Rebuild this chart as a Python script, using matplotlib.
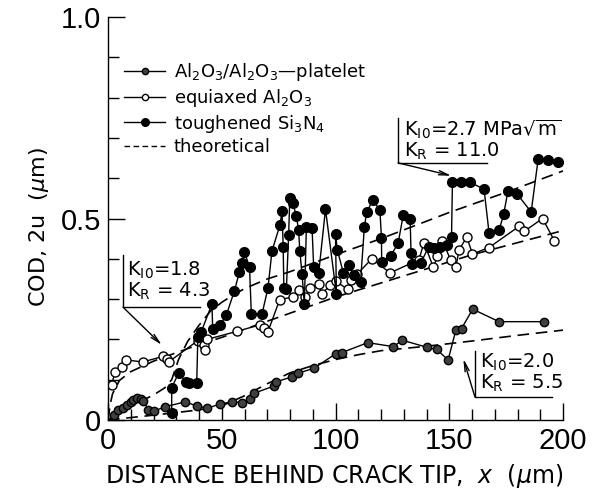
import matplotlib
matplotlib.use("Agg")
import matplotlib.pyplot as plt
from matplotlib.lines import Line2D

platelet_x = [2.5, 4.5, 6.7, 8.2, 10, 11.1, 12.6, 14.3, 15.5, 17.8, 20.3, 25.1, 33.9, 39,
              43.7, 49.3, 54.5, 58.9, 62.2, 64, 72.8, 74, 80.9, 83.4, 90.4, 100, 102.7,
              114.2, 125.4, 129.4, 140.4, 144.5, 149.5, 152.9, 155.4, 160.3, 171.9, 191.7]
platelet_y = [0.012, 0.025, 0.03, 0.037, 0.045, 0.05, 0.055, 0.052, 0.048, 0.025, 0.022,
              0.033, 0.045, 0.035, 0.029, 0.04, 0.045, 0.043, 0.051, 0.066, 0.084, 0.095,
              0.107, 0.116, 0.128, 0.164, 0.167, 0.192, 0.182, 0.198, 0.18, 0.175, 0.149,
              0.223, 0.227, 0.275, 0.244, 0.244]

equiaxed_x = [1.6, 3.1, 6, 7.9, 15.3, 24.3, 25.8, 26.9, 39.5, 42, 42.7, 43.5, 56.7, 66.7,
              68.4, 70.3, 75.5, 81.3, 83.8, 86.8, 89, 92.6, 94, 97.8, 100, 105.4, 107,
              109.5, 116, 124, 136.7, 138.9, 143, 144.8, 147, 150.7, 152.9, 154.3, 157.7,
              160.2, 167.5, 180.8, 182.9, 191, 196.2]
equiaxed_y = [0.087, 0.12, 0.132, 0.149, 0.144, 0.158, 0.151, 0.145, 0.197, 0.186, 0.174,
              0.2, 0.22, 0.236, 0.228, 0.219, 0.299, 0.305, 0.323, 0.305, 0.327, 0.337,
              0.313, 0.335, 0.345, 0.324, 0.347, 0.362, 0.40, 0.365, 0.398, 0.44, 0.379,
              0.406, 0.443, 0.397, 0.379, 0.422, 0.454, 0.412, 0.428, 0.481, 0.468, 0.50,
              0.445]

si3n4_x = [28, 28, 31, 34.4, 35.5, 39, 39.5, 41, 45.7, 46, 49.3, 52, 55.6, 57.8, 58.9,
           59.9, 62.2, 63, 67.7, 70.3, 72.1, 75.6, 76.5, 77, 77.3, 78.4, 79.4, 79.9, 81.3,
           82.8, 83.8, 84.3, 85.3, 86.3, 87.2, 89.7, 90.4, 92.6, 95.6, 100.4, 100, 100.8,
           103.5, 105.9, 108, 111, 112.7, 113.7, 116.3, 119.5, 120.2, 120.3, 124.2, 127.5,
           129.8, 132.8, 133.2, 133.7, 137.4, 141, 143.3, 146, 148.9, 151, 151.4, 155,
           159, 165.3, 167.5, 171.9, 173.9, 175.8, 179.7, 186, 189.1, 193.5, 197.6]
si3n4_y = [0.018, 0.08, 0.116, 0.095, 0.092, 0.093, 0.207, 0.219, 0.288, 0.227, 0.236,
           0.26, 0.321, 0.368, 0.39, 0.418, 0.38, 0.263, 0.263, 0.327, 0.42, 0.484, 0.518,
           0.43, 0.327, 0.324, 0.459, 0.55, 0.538, 0.505, 0.471, 0.42, 0.362, 0.288, 0.478,
           0.476, 0.38, 0.364, 0.523, 0.313, 0.462, 0.422, 0.364, 0.385, 0.36, 0.342, 0.48,
           0.515, 0.545, 0.522, 0.452, 0.393, 0.407, 0.438, 0.509, 0.5, 0.414, 0.386, 0.389,
           0.43, 0.426, 0.43, 0.434, 0.455, 0.59, 0.59, 0.59, 0.573, 0.464, 0.471, 0.51,
           0.568, 0.562, 0.516, 0.648, 0.644, 0.641]

# theoretical curves
theo_si_x = [0, 10, 20, 25, 28, 31, 35, 40, 45, 50, 55, 60, 70, 80, 100, 120, 150, 175, 200]
theo_si_y = [0, 0.035, 0.062, 0.08, 0.1, 0.15, 0.195, 0.235, 0.27, 0.292, 0.31, 0.326,
             0.35, 0.368, 0.41, 0.45, 0.515, 0.565, 0.618]
theo_eq_x = [0, 1, 2, 5, 10, 20, 30, 40, 50, 60, 80, 100, 120, 140, 160, 180, 200]
theo_eq_y = [0, 0.04, 0.065, 0.098, 0.12, 0.146, 0.167, 0.187, 0.205, 0.225, 0.265, 0.305,
             0.34, 0.375, 0.41, 0.44, 0.47]
theo_pl_x = [0, 20, 40, 50, 60, 70, 80, 90, 100, 110, 120, 140, 160, 180, 200]
theo_pl_y = [0, 0.012, 0.025, 0.035, 0.06, 0.09, 0.117, 0.135, 0.15, 0.162, 0.172, 0.183,
             0.196, 0.21, 0.223]

x_ticks = [0, 50, 100, 150, 200]
x_tick_labels = ["0", "50", "100", "150", "200"]
y_ticks = [0, 0.5, 1.0]
y_tick_labels = ["0", "0.5", "1.0"]

DASH = (0, (7, 4))


def bracket(ax, corner, top, right, tip, lines, text_xy):
    """Label box with an L shaped frame and a pointer"""
    ax.plot([corner[0], corner[0], right], [top, corner[1], corner[1]],
            color="k", lw=1.0)
    ax.annotate("", xy=tip, xytext=corner,
                arrowprops=dict(arrowstyle="->,head_length=0.7,head_width=0.15",
                                color="k", lw=1.0, shrinkA=0, shrinkB=0))
    ax.text(text_xy[0], text_xy[1], lines, fontsize=14, va="center", ha="left",
            linespacing=1.0)


def main():
    plt.rcParams["font.family"] = ["DejaVu Sans"]
    plt.rcParams["mathtext.default"] = "regular"

    fig = plt.figure(figsize=(5.99, 4.95), dpi=100)
    ax = fig.add_axes([108 / 599, 75 / 495, 455 / 599, 403 / 495])

    ax.plot(theo_si_x, theo_si_y, color="k", lw=1.2, linestyle=DASH)
    ax.plot(theo_eq_x, theo_eq_y, color="k", lw=1.2, linestyle=DASH)
    ax.plot(theo_pl_x, theo_pl_y, color="k", lw=1.2, linestyle=DASH)

    ax.plot(platelet_x, platelet_y, "-o", color="k", lw=1.0, ms=6,
            mfc="0.25", mec="k", mew=1.0)
    ax.plot(equiaxed_x, equiaxed_y, "-o", color="k", lw=1.0, ms=6.5,
            mfc="white", mec="k", mew=1.0)
    ax.plot(si3n4_x, si3n4_y, "-o", color="k", lw=1.0, ms=7,
            mfc="k", mec="k")

    handles = [
        Line2D([], [], color="k", lw=1.0, marker="o", ms=4.5, mfc="0.25"),
        Line2D([], [], color="k", lw=1.0, marker="o", ms=4.5, mfc="white"),
        Line2D([], [], color="k", lw=1.0, marker="o", ms=5.5, mfc="k"),
        Line2D([], [], color="k", lw=1.0, linestyle=(0, (4, 2.5))),
    ]
    labels = [r"Al$_2$O$_3$/Al$_2$O$_3$—platelet", r"equiaxed Al$_2$O$_3$",
              r"toughened Si$_3$N$_4$", "theoretical"]
    ax.legend(handles, labels, loc="upper left", bbox_to_anchor=(0.035, 0.89),
              frameon=False, fontsize=13, handlelength=2.3, handletextpad=0.45,
              labelspacing=0.2, borderpad=0, borderaxespad=0, numpoints=1)

    bracket(ax, (6.6, 0.28), 0.41, 40.5, (23.7, 0.186),
            "K$_{I0}$=1.8\nK$_R$ = 4.3", (8.5, 0.345))
    bracket(ax, (127.5, 0.638), 0.75, 166.6, (151.0, 0.606),
            "K$_{I0}$=2.7 MPa$\\sqrt{m}$\nK$_R$ = 11.0", (130.0, 0.695))
    bracket(ax, (161.3, 0.057), 0.17, 195.2, (156.2, 0.152),
            "K$_{I0}$=2.0\nK$_R$ = 5.5", (163.3, 0.117))

    ax.set_xlim(0, 200)
    ax.set_ylim(0, 1.0)
    ax.spines["top"].set_visible(False)
    ax.spines["right"].set_visible(False)
    ax.spines["left"].set_linewidth(1.0)
    ax.spines["bottom"].set_linewidth(1.0)

    ax.set_xticks(x_ticks)
    ax.set_xticklabels(x_tick_labels, fontname="Liberation Sans", fontsize=21)
    ax.set_xticks(range(0, 201, 10), minor=True)
    ax.set_yticks(y_ticks)
    ax.set_yticklabels(y_tick_labels, fontname="Liberation Sans", fontsize=21)
    ax.set_yticks([i / 10 for i in range(11)], minor=True)
    ax.tick_params(which="major", direction="in", length=12, width=1.0, pad=5)
    ax.tick_params(which="minor", direction="in", length=8, width=1.0)

    ax.set_xlabel(r"DISTANCE BEHIND CRACK TIP,  $\it{x}$  ($\it{\mu}$m)", fontsize=17)
    ax.set_ylabel(r"COD, 2u  ($\it{\mu}$m)", fontsize=16)
    ax.xaxis.set_label_coords(0.497, -0.105)
    ax.yaxis.set_label_coords(-0.125, 0.48)

    fig.savefig("out.png", dpi=100)


if __name__ == "__main__":
    main()
